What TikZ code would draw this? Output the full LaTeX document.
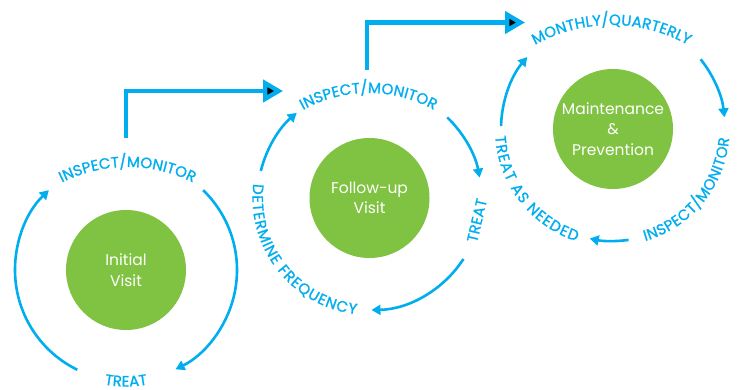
\documentclass[tikz,border=0pt]{standalone}
\usepackage{fontspec}
\setmainfont{Poppins}
\newfontfamily\labfam{Poppins}[FakeBold=1.2]
\usetikzlibrary{arrows.meta,decorations.text,calc}
\definecolor{cblue}{HTML}{00AEEF}
\definecolor{cgreen}{HTML}{80C242}
\newcommand{\labsz}{\labfam\fontsize{15}{17}\selectfont}
\begin{document}
\begin{tikzpicture}[x=1pt,y=1pt,
  cyc/.style={draw=cblue, line width=2.6pt, -{Triangle[length=9pt,width=10pt]}},
  big/.style={draw=cblue, line width=4.4pt, line join=miter, -{Triangle[length=20pt,width=22pt]}},
  hub/.style={circle, fill=cgreen, minimum size=120pt, inner sep=0pt, text=white,
    font=\fontsize{15.5}{20.5}\selectfont, align=center},
  lab/.style={decorate, decoration={text along path, text align=fit to path,
    text color=cblue, text={|\labsz|#1}}}]
\useasboundingbox (0,0) rectangle (743,389);

% centres
\coordinate (o1) at (126,119);
\coordinate (o2) at (369.5,191);
\coordinate (o3) at (613,260);

% hubs
\node[hub] (n1) at (o1) {Initial\\Visit};
\node[hub] (n2) at (o2) {Follow-up\\Visit};
\node[hub] (n3) at (o3) {Maintenance\\\&\\Prevention};

% cycle 1 arcs
\draw[cyc] ([shift={(244:111)}]o1) arc[start angle=244, end angle=134, radius=111];
\draw[cyc] ([shift={(46:111)}]o1) arc[start angle=46, end angle=-63.5, radius=111];
% cycle 2 arcs
\draw[cyc] ([shift={(46:112)}]o2) arc[start angle=46, end angle=10.5, radius=112];
\draw[cyc] ([shift={(-33:112)}]o2) arc[start angle=-33, end angle=-89, radius=112];
\draw[cyc] ([shift={(166:112)}]o2) arc[start angle=166, end angle=130.5, radius=112];
% cycle 3 arcs
\draw[cyc] ([shift={(38.5:112)}]o3) arc[start angle=38.5, end angle=6, radius=112];
\draw[cyc] ([shift={(-82:112)}]o3) arc[start angle=-82, end angle=-102, radius=112];
\draw[cyc] ([shift={(178.5:112)}]o3) arc[start angle=178.5, end angle=140, radius=112];

% labels
\coordinate (t1c) at (127.5,76);
\path[lab={INSPECT/MONITOR}] ([shift={(116.7:146)}]t1c) arc[start angle=116.7, end angle=63.3, radius=146];
\path[lab={TREAT}] ([shift={(259.3:116.5)}]o1) arc[start angle=259.3, end angle=280.7, radius=116.5];
\coordinate (t3c) at (368.5,161.3);
\path[lab={INSPECT/MONITOR}] ([shift={(119.1:134.7)}]t3c) arc[start angle=119.1, end angle=60.9, radius=134.7];
\coordinate (t4a) at (477,146);
\coordinate (t4b) at (487,189);
\path[lab={TREAT}] (t4a) -- (t4b);
\path[lab={DETERMINE FREQUENCY}] ([shift={(173:117)}]o2) arc[start angle=173, end angle=263.5, radius=117];
\coordinate (t6c) at (611.5,207.7);
\path[lab={MONTHLY/QUARTERLY}] ([shift={(119.3:156.3)}]t6c) arc[start angle=119.3, end angle=60.7, radius=156.3];
\path[lab={INSPECT/MONITOR}] ([shift={(-74:116.5)}]o3) arc[start angle=-74, end angle=-4.5, radius=116.5];
\path[lab={TREAT AS NEEDED}] ([shift={(183.5:118)}]o3) arc[start angle=183.5, end angle=252, radius=118];

% big connectors
\coordinate (b1s) at (126,251);
\coordinate (b1e) at (283,298);
\draw[big] (b1s) |- (b1e);
\coordinate (b2s) at (367,319);
\coordinate (b2e) at (525,366.5);
\draw[big] (b2s) |- (b2e);
\end{tikzpicture}
\end{document}
